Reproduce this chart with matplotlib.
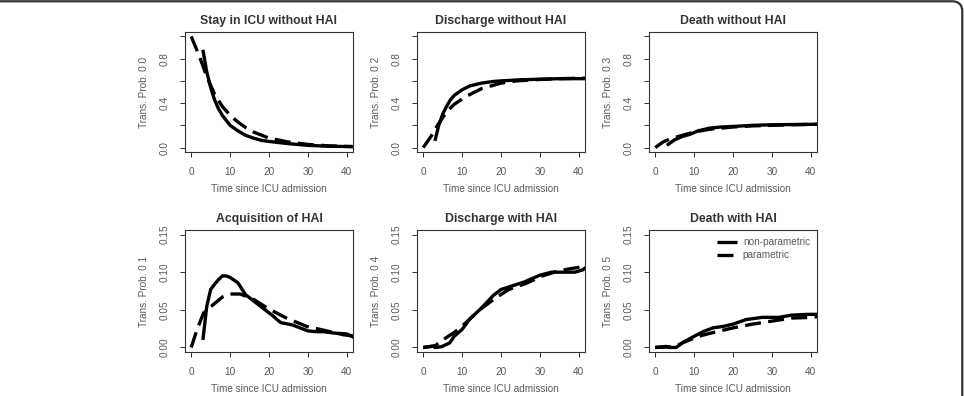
# Transition probabilities: non-parametric vs parametric, 6 panels (2 x 3)

import matplotlib
matplotlib.use("Agg")
import matplotlib.pyplot as plt
from matplotlib.patches import FancyBboxPatch

plt.rcParams['font.family'] = ['Liberation Sans', 'DejaVu Sans']

# ---------------------- data ----------------------
titles = ["Stay in ICU without HAI", "Discharge without HAI", "Death without HAI",
          "Acquisition of HAI", "Discharge with HAI", "Death with HAI"]
ylabels = ["Trans. Prob. 0 0", "Trans. Prob. 0 2", "Trans. Prob. 0 3",
           "Trans. Prob. 0 1", "Trans. Prob. 0 4", "Trans. Prob. 0 5"]

# 0 -> 0
np00_t = [3, 4, 5, 6, 7, 8, 10, 12, 14, 16, 18, 20, 25, 30, 35, 42]
np00_p = [0.88, 0.68, 0.54, 0.43, 0.35, 0.29, 0.20, 0.15, 0.11, 0.085, 0.065, 0.055, 0.035, 0.02, 0.012, 0.008]
pa00_t = [0, 2, 4, 6, 8, 10, 12, 14, 16, 20, 25, 30, 35, 42]
pa00_p = [1.0, 0.83, 0.64, 0.48, 0.37, 0.29, 0.23, 0.18, 0.14, 0.085, 0.05, 0.028, 0.016, 0.008]

# 0 -> 2
np02_t = [3, 4, 5, 6, 7, 8, 10, 12, 15, 18, 20, 25, 30, 35, 42]
np02_p = [0.06, 0.2, 0.3, 0.37, 0.43, 0.47, 0.52, 0.555, 0.58, 0.595, 0.6, 0.61, 0.615, 0.62, 0.62]
pa02_t = [0, 2, 3.5, 5, 6.5, 8, 11, 15, 20, 24, 30, 35, 42]
pa02_p = [0, 0.1, 0.19, 0.27, 0.34, 0.39, 0.46, 0.53, 0.58, 0.6, 0.613, 0.62, 0.625]

# 0 -> 3
np03_t = [3, 5, 7, 9, 11, 14, 17, 20, 25, 30, 35, 42]
np03_p = [0.02, 0.07, 0.1, 0.12, 0.15, 0.175, 0.185, 0.19, 0.2, 0.205, 0.207, 0.21]
pa03_t = [0, 2, 4, 6, 8, 10, 14, 20, 25, 30, 35, 42]
pa03_p = [0, 0.05, 0.08, 0.1, 0.12, 0.14, 0.165, 0.185, 0.195, 0.2, 0.205, 0.21]

# 0 -> 1
np01_t = [3, 4, 5, 6, 7, 8, 9, 10, 12, 14, 17, 19, 21, 23, 26, 28, 30, 32, 34, 37, 40, 42]
np01_p = [0.01, 0.055, 0.077, 0.084, 0.09, 0.095, 0.095, 0.093, 0.086, 0.07, 0.058, 0.05, 0.042,
          0.033, 0.03, 0.026, 0.022, 0.021, 0.021, 0.019, 0.018, 0.013]
pa01_t = [0, 1.5, 3.2, 5.7, 8, 10, 12.6, 16, 20, 24.5, 29.7, 34, 39, 42]
pa01_p = [0, 0.024, 0.046, 0.057, 0.067, 0.071, 0.071, 0.064, 0.051, 0.039, 0.028, 0.023, 0.017, 0.015]

# 0 -> 4
np04_t = [0, 2.6, 3, 4.7, 6.8, 8, 10, 12, 14.5, 16, 18, 20, 23, 26, 30, 33, 36, 39, 41, 42]
np04_p = [0, 0.002, 0, 0.001, 0.006, 0.015, 0.024, 0.038, 0.05, 0.058, 0.069, 0.077, 0.082,
          0.087, 0.096, 0.1, 0.1, 0.1, 0.103, 0.107]
pa04_t = [0, 3, 5, 8, 11, 14.5, 18.7, 22, 26.4, 30.6, 35, 38.3, 42]
pa04_p = [0, 0.002, 0.01, 0.02, 0.033, 0.05, 0.066, 0.077, 0.085, 0.095, 0.102, 0.105, 0.108]

# 0 -> 5
np05_t = [0, 2.8, 3.7, 5.4, 7.2, 9.7, 12.3, 14.8, 17.5, 20, 23.3, 27.5, 31.8, 35.2, 39.4, 42]
np05_p = [0, 0.0014, 0, 0, 0.007, 0.014, 0.021, 0.026, 0.028, 0.031, 0.037, 0.04, 0.04, 0.043, 0.044, 0.044]
pa05_t = [0, 5, 7, 9.7, 12, 15, 20, 25, 30, 35, 40, 42]
pa05_p = [0, 0.001, 0.006, 0.012, 0.016, 0.02, 0.026, 0.031, 0.035, 0.039, 0.04, 0.041]

nonpar = [(np00_t, np00_p), (np02_t, np02_p), (np03_t, np03_p),
          (np01_t, np01_p), (np04_t, np04_p), (np05_t, np05_p)]
param = [(pa00_t, pa00_p), (pa02_t, pa02_p), (pa03_t, pa03_p),
         (pa01_t, pa01_p), (pa04_t, pa04_p), (pa05_t, pa05_p)]

xticks = [0, 10, 20, 30, 40]
top_yticks = [0.0, 0.2, 0.4, 0.6, 0.8, 1.0]
top_ylabels = ["0.0", "", "0.4", "", "0.8", ""]
bot_yticks = [0.0, 0.05, 0.10, 0.15]
bot_ylabels = ["0.00", "0.05", "0.10", "0.15"]

# ---------------------- figure ----------------------
W, H = 964, 396
fig = plt.figure(figsize=(W / 100, H / 100), dpi=100)

lefts = [185, 417, 649]
box_w = 168
rows = [(32, 152), (230, 352)]  # top, bottom in pixels

txt_col = "#5a5a5a"
fs = 7.2

for i in range(6):
    r, c = divmod(i, 3)
    top, bot = rows[r]
    ax = fig.add_axes([lefts[c] / W, 1 - bot / H, box_w / W, (bot - top) / H])

    t, p = nonpar[i]
    ax.plot(t, p, color="black", lw=2.4, solid_capstyle="butt", label="non-parametric")
    t, p = param[i]
    ax.plot(t, p, color="black", lw=2.4, linestyle=(0, (4.8, 2.2)), label="parametric")

    ax.set_xlim(-1.6, 41.6)
    ax.set_xticks(xticks)
    if r == 0:
        ax.set_ylim(-0.04, 1.04)
        ax.set_yticks(top_yticks)
        ax.set_yticklabels(top_ylabels, rotation=90, va="center")
    else:
        ax.set_ylim(-0.006, 0.156)
        ax.set_yticks(bot_yticks)
        ax.set_yticklabels(bot_ylabels, rotation=90, va="center")

    ax.tick_params(direction="out", length=3.3, width=0.7, colors="#333333",
                   labelcolor=txt_col, labelsize=fs, pad=7.5)
    for s in ax.spines.values():
        s.set_linewidth(0.8)
        s.set_color("#333333")

    ax.set_title(titles[i], fontsize=8.8, fontweight="bold", color="#333333", pad=5.5)
    ax.set_xlabel("Time since ICU admission", fontsize=fs, color=txt_col, labelpad=5)
    ax.set_ylabel(ylabels[i], fontsize=fs, color=txt_col, labelpad=8)

    if i == 5:
        ax.legend(loc="upper right", frameon=False, fontsize=fs, labelcolor=txt_col,
                  handlelength=2.0, handletextpad=0.6, labelspacing=0.3,
                  borderaxespad=0.3, bbox_to_anchor=(1.0, 1.0))

# rounded frame around the whole picture (left and bottom edges fall outside)
frame = FancyBboxPatch((-0.12, -0.5), 9.743, 4.447,
                       boxstyle="round,pad=0,rounding_size=0.1",
                       transform=fig.dpi_scale_trans, fill=False,
                       ec="#333333", lw=1.6)
fig.patches.append(frame)

fig.savefig("out.png", dpi=100)
